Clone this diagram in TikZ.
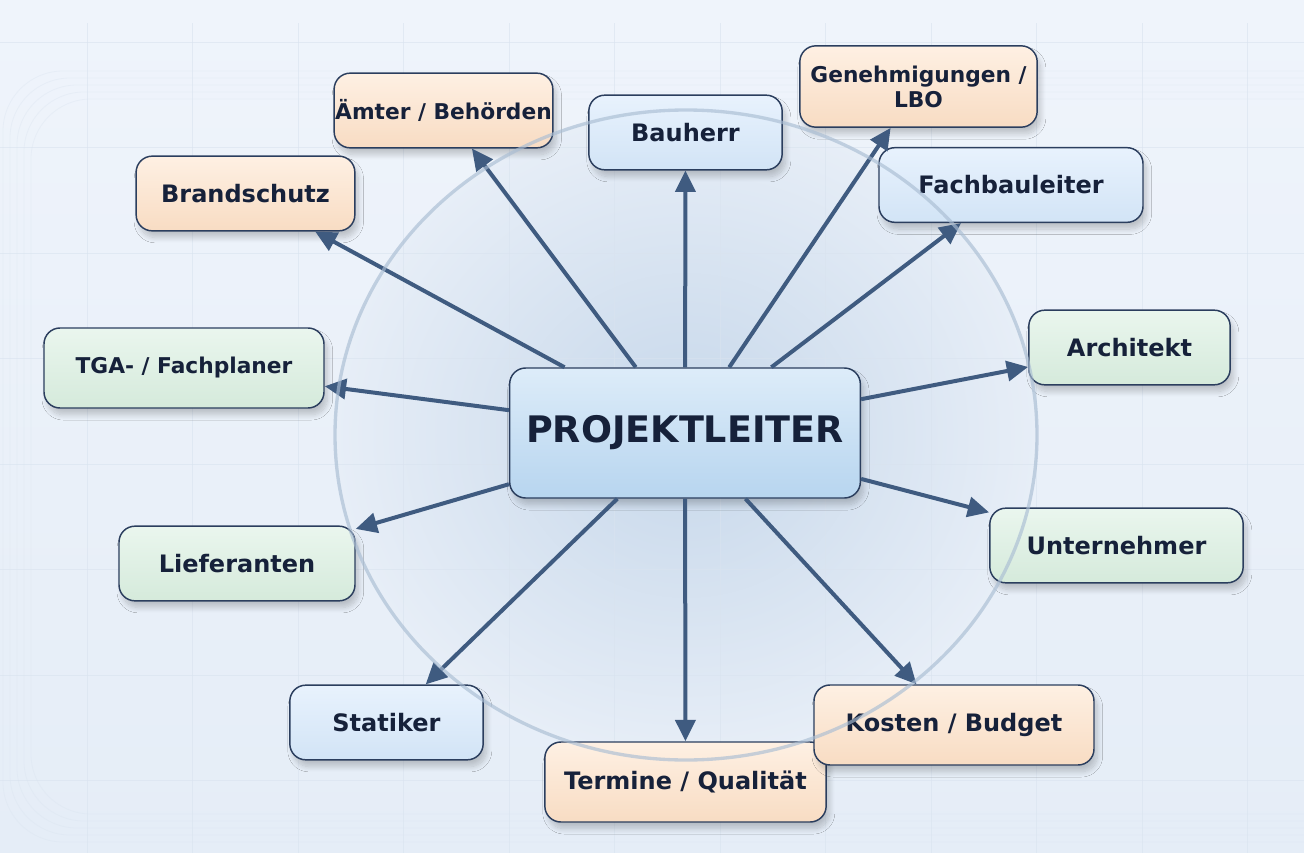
\documentclass[tikz,border=0pt]{standalone}
\usepackage{fontspec}
\setmainfont{DejaVu Sans}
\usetikzlibrary{arrows.meta,shadows.blur}

\definecolor{bgtop}{HTML}{EFF4FB}
\definecolor{bgbot}{HTML}{E5EDF7}
\definecolor{gridc}{HTML}{D9E3EF}
\definecolor{ringc}{HTML}{A9BDD3}
\definecolor{ringin}{HTML}{C6D7EA}
\definecolor{ringout}{HTML}{E7EEF7}
\definecolor{linec}{HTML}{2B3E5E}
\definecolor{txtc}{HTML}{16213A}
\definecolor{arrowc}{HTML}{3F5B80}
\definecolor{blueA}{HTML}{E8F2FD}
\definecolor{blueB}{HTML}{D2E4F6}
\definecolor{orangeA}{HTML}{FEF0E3}
\definecolor{orangeB}{HTML}{F8DCC3}
\definecolor{greenA}{HTML}{EAF6EE}
\definecolor{greenB}{HTML}{D5EADB}
\definecolor{plA}{HTML}{DDECF9}
\definecolor{plB}{HTML}{B7D5EF}

\tikzset{
  box/.style={draw=linec, line width=1.1pt, rounded corners=12pt, inner sep=0pt,
    text=txtc, align=center, minimum height=56pt,
    font=\fontsize{18}{22}\selectfont\bfseries,
    blur shadow={shadow xshift=2.5pt, shadow yshift=-5pt, shadow blur radius=4pt,
      shadow blur steps=10, shadow opacity=20}},
  small/.style={font=\fontsize{16.3}{18.8}\selectfont\bfseries},
  bluebox/.style={box, top color=blueA, bottom color=blueB},
  orangebox/.style={box, top color=orangeA, bottom color=orangeB},
  greenbox/.style={box, top color=greenA, bottom color=greenB},
  link/.style={line width=3pt, draw=arrowc, -{Triangle[length=16pt,width=15pt]}},
}

\begin{document}
\begin{tikzpicture}[x=0.75pt, y=-0.75pt]
    % Background
    \clip (0,0) rectangle (1304,853);
    \shade[top color=bgtop, bottom color=bgbot] (0,0) rectangle (1304,853);
    \foreach \k in {0,...,4}
        \draw[gridc, opacity=0.35, line width=0.6pt, rounded corners=45pt]
            (3+7*\k,71+7*\k) rectangle (1400,842-7*\k);

    % Ring
    \shade[inner color=ringin, outer color=ringout] (686,435) ellipse (351 and 325);
    \foreach \i in {0,...,11}
        \draw[gridc, opacity=0.6, line width=0.6pt] (87+105.5*\i,23) -- (87+105.5*\i,853);
    \foreach \i in {0,...,7}
        \draw[gridc, opacity=0.6, line width=0.6pt] (0,42+105.5*\i) -- (1304,42+105.5*\i);

    % Nodes
    \node[box, top color=plA, bottom color=plB, minimum width=263pt, minimum height=97.5pt,
          font=\fontsize{27.4}{30}\selectfont\bfseries] (pl) at (685,433) {PROJEKTLEITER};
    \node[bluebox, minimum width=145pt] (bauherr) at (685.5,132.5) {Bauherr};
    \node[orangebox, small, minimum width=164pt] (aemter) at (443.5,110.5) {Ämter / Behörden};
    \node[orangebox, small, minimum width=178pt, minimum height=61pt] (genehm) at (918.5,86.5) {Genehmigungen /\\LBO};
    \node[orangebox, minimum width=164pt] (brand) at (245.5,193.5) {Brandschutz};
    \node[bluebox, minimum width=198pt] (fbl) at (1011,185) {Fachbauleiter};
    \node[greenbox, small, minimum width=210pt, minimum height=60pt] (tga) at (184,368) {TGA- / Fachplaner};
    \node[greenbox, minimum width=151pt] (arch) at (1129.5,347.5) {Architekt};
    \node[greenbox, minimum width=177pt] (lief) at (237,563.5) {Lieferanten};
    \node[greenbox, minimum width=190pt] (untern) at (1116.5,545.5) {Unternehmer};
    \node[bluebox, minimum width=145pt] (statik) at (386.5,722.5) {Statiker};
    \node[orangebox, minimum width=211pt, minimum height=60pt] (termine) at (685.5,782) {Termine / Qualität};
    \node[orangebox, minimum width=210pt, minimum height=60pt] (kosten) at (954,725) {Kosten / Budget};

    % Arrows
    \foreach \t in {bauherr,aemter,genehm,brand,fbl,tga,arch,lief,untern,statik,termine,kosten}
        \draw[link] (pl) -- (\t);

    % Ring outline
    \draw[ringc, opacity=0.65, line width=2.5pt] (686,435) ellipse (351 and 325);
\end{tikzpicture}
\end{document}
